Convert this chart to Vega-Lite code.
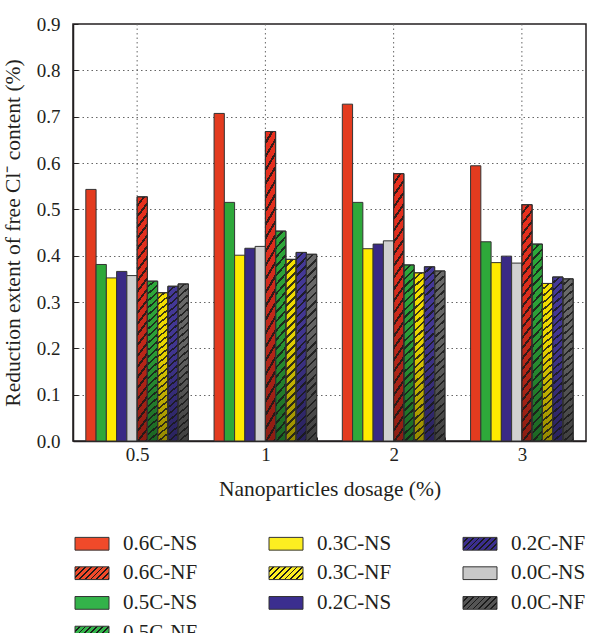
{
  "$schema": "https://vega.github.io/schema/vega-lite/v6.json",
  "autosize": "none",
  "width": 513,
  "height": 417,
  "padding": {"left": 73, "top": 24, "right": 4, "bottom": 192},
  "data": {
    "values": [
      {"dosage": "0.5", "series": "0.6C-NS", "value": 0.543},
      {"dosage": "0.5", "series": "0.5C-NS", "value": 0.381},
      {"dosage": "0.5", "series": "0.3C-NS", "value": 0.352},
      {"dosage": "0.5", "series": "0.2C-NS", "value": 0.366},
      {"dosage": "0.5", "series": "0.0C-NS", "value": 0.357},
      {"dosage": "0.5", "series": "0.6C-NF", "value": 0.527},
      {"dosage": "0.5", "series": "0.5C-NF", "value": 0.345},
      {"dosage": "0.5", "series": "0.3C-NF", "value": 0.320},
      {"dosage": "0.5", "series": "0.2C-NF", "value": 0.334},
      {"dosage": "0.5", "series": "0.0C-NF", "value": 0.339},
      {"dosage": "1", "series": "0.6C-NS", "value": 0.707},
      {"dosage": "1", "series": "0.5C-NS", "value": 0.515},
      {"dosage": "1", "series": "0.3C-NS", "value": 0.401},
      {"dosage": "1", "series": "0.2C-NS", "value": 0.416},
      {"dosage": "1", "series": "0.0C-NS", "value": 0.420},
      {"dosage": "1", "series": "0.6C-NF", "value": 0.668},
      {"dosage": "1", "series": "0.5C-NF", "value": 0.453},
      {"dosage": "1", "series": "0.3C-NF", "value": 0.392},
      {"dosage": "1", "series": "0.2C-NF", "value": 0.407},
      {"dosage": "1", "series": "0.0C-NF", "value": 0.403},
      {"dosage": "2", "series": "0.6C-NS", "value": 0.727},
      {"dosage": "2", "series": "0.5C-NS", "value": 0.515},
      {"dosage": "2", "series": "0.3C-NS", "value": 0.415},
      {"dosage": "2", "series": "0.2C-NS", "value": 0.425},
      {"dosage": "2", "series": "0.0C-NS", "value": 0.432},
      {"dosage": "2", "series": "0.6C-NF", "value": 0.577},
      {"dosage": "2", "series": "0.5C-NF", "value": 0.380},
      {"dosage": "2", "series": "0.3C-NF", "value": 0.363},
      {"dosage": "2", "series": "0.2C-NF", "value": 0.376},
      {"dosage": "2", "series": "0.0C-NF", "value": 0.367},
      {"dosage": "3", "series": "0.6C-NS", "value": 0.594},
      {"dosage": "3", "series": "0.5C-NS", "value": 0.430},
      {"dosage": "3", "series": "0.3C-NS", "value": 0.385},
      {"dosage": "3", "series": "0.2C-NS", "value": 0.399},
      {"dosage": "3", "series": "0.0C-NS", "value": 0.384},
      {"dosage": "3", "series": "0.6C-NF", "value": 0.510},
      {"dosage": "3", "series": "0.5C-NF", "value": 0.425},
      {"dosage": "3", "series": "0.3C-NF", "value": 0.340},
      {"dosage": "3", "series": "0.2C-NF", "value": 0.354},
      {"dosage": "3", "series": "0.0C-NF", "value": 0.350}
    ]
  },
  "layer": [
    {
      "data": {"values": [{"dosage": "0.5"}, {"dosage": "1"}, {"dosage": "2"}, {"dosage": "3"}]},
      "mark": {"type": "rule", "color": "#666666", "strokeWidth": 1, "strokeDash": [1.5, 3]},
      "encoding": {
        "x": {
          "field": "dosage", "type": "nominal",
          "scale": {"domain": ["0.5", "1", "2", "3"], "paddingInner": 0.2, "paddingOuter": 0.1},
          "axis": {"title": "Nanoparticles dosage (%)", "labelAngle": 0, "tickBand": "extent", "tickSize": -4, "labelPadding": 8, "titlePadding": 14, "grid": false}
        }
      }
    },
    {
      "mark": {"type": "bar", "stroke": "#333333", "strokeWidth": 1},
      "encoding": {
        "x": {
          "field": "dosage", "type": "nominal",
          "scale": {"domain": ["0.5", "1", "2", "3"], "paddingInner": 0.2, "paddingOuter": 0.1},
          "axis": {"title": "Nanoparticles dosage (%)", "labelAngle": 0, "tickBand": "extent", "tickSize": -4, "labelPadding": 8, "titlePadding": 14, "grid": false}
        },
        "xOffset": {
          "field": "series", "type": "nominal",
          "scale": {"domain": ["0.6C-NS", "0.5C-NS", "0.3C-NS", "0.2C-NS", "0.0C-NS", "0.6C-NF", "0.5C-NF", "0.3C-NF", "0.2C-NF", "0.0C-NF"]}
        },
        "y": {
          "field": "value", "type": "quantitative",
          "scale": {"domain": [0, 0.9], "nice": false},
          "axis": {
            "title": "Reduction extent of free Cl⁻ content (%)",
            "values": [0, 0.05, 0.1, 0.15, 0.2, 0.25, 0.3, 0.35, 0.4, 0.45, 0.5, 0.55, 0.6, 0.65, 0.7, 0.75, 0.8, 0.85, 0.9],
            "labelExpr": "abs(datum.value*10 - round(datum.value*10)) < 0.01 ? format(datum.value, '.1f') : ''",
            "labelOverlap": false,
            "tickSize": -5,
            "labelPadding": 18,
            "titlePadding": 12,
            "grid": true,
            "gridOpacity": {"condition": {"test": "abs(datum.value*10 - round(datum.value*10)) > 0.01 || datum.value < 0.01 || datum.value > 0.89", "value": 0}, "value": 1}
          }
        },
        "color": {
          "field": "series", "type": "nominal",
          "scale": {
            "domain": ["0.0C-NF", "0.2C-NF", "0.3C-NF", "0.5C-NF", "0.6C-NF", "0.0C-NS", "0.2C-NS", "0.3C-NS", "0.5C-NS", "0.6C-NS"],
            "range": ["#6a6a6a", "#45399a", "#f5e000", "#2ea83a", "#e8301e", "#d0d0d0", "#3a2a85", "#ffea00", "#2ea83a", "#e33b1f"]
          },
          "legend": null
        }
      }
    },
    {
      "transform": [{"filter": "indexof(datum.series,'NF') >= 0"}],
      "mark": {
        "type": "bar",
        "strokeWidth": 0,
        "fill": {"gradient": "linear", "x1": 0, "y1": 0, "x2": 0, "y2": 1, "stops": [{"offset": 0, "color": "rgba(0,0,0,0)"}, {"offset": 0.4, "color": "rgba(0,0,0,0.06)"}, {"offset": 1, "color": "rgba(0,0,0,0.4)"}]}
      },
      "encoding": {
        "x": {
          "field": "dosage", "type": "nominal",
          "scale": {"domain": ["0.5", "1", "2", "3"], "paddingInner": 0.2, "paddingOuter": 0.1},
          "axis": {"title": "Nanoparticles dosage (%)", "labelAngle": 0, "tickBand": "extent", "tickSize": -4, "labelPadding": 8, "titlePadding": 14, "grid": false}
        },
        "xOffset": {"field": "series", "type": "nominal"},
        "y": {"field": "value", "type": "quantitative"}
      }
    },
    {
      "transform": [{"filter": "indexof(datum.series,'NF') >= 0"}],
      "mark": {
        "type": "bar",
        "stroke": "#333333",
        "strokeWidth": 1,
        "fill": {"gradient": "linear", "x1": 0, "y1": 0, "x2": 0.0585, "y2": 1.0523, "stops": [
          {"offset": 0, "color": "rgba(0,0,0,0)"}, {"offset": 0.02917, "color": "rgba(0,0,0,0)"}, {"offset": 0.02917, "color": "rgba(25,25,25,0.85)"}, {"offset": 0.04167, "color": "rgba(25,25,25,0.85)"},
          {"offset": 0.04167, "color": "rgba(0,0,0,0)"}, {"offset": 0.07083, "color": "rgba(0,0,0,0)"}, {"offset": 0.07083, "color": "rgba(25,25,25,0.85)"}, {"offset": 0.08333, "color": "rgba(25,25,25,0.85)"},
          {"offset": 0.08333, "color": "rgba(0,0,0,0)"}, {"offset": 0.1125, "color": "rgba(0,0,0,0)"}, {"offset": 0.1125, "color": "rgba(25,25,25,0.85)"}, {"offset": 0.125, "color": "rgba(25,25,25,0.85)"},
          {"offset": 0.125, "color": "rgba(0,0,0,0)"}, {"offset": 0.15417, "color": "rgba(0,0,0,0)"}, {"offset": 0.15417, "color": "rgba(25,25,25,0.85)"}, {"offset": 0.16667, "color": "rgba(25,25,25,0.85)"},
          {"offset": 0.16667, "color": "rgba(0,0,0,0)"}, {"offset": 0.19583, "color": "rgba(0,0,0,0)"}, {"offset": 0.19583, "color": "rgba(25,25,25,0.85)"}, {"offset": 0.20833, "color": "rgba(25,25,25,0.85)"},
          {"offset": 0.20833, "color": "rgba(0,0,0,0)"}, {"offset": 0.2375, "color": "rgba(0,0,0,0)"}, {"offset": 0.2375, "color": "rgba(25,25,25,0.85)"}, {"offset": 0.25, "color": "rgba(25,25,25,0.85)"},
          {"offset": 0.25, "color": "rgba(0,0,0,0)"}, {"offset": 0.27917, "color": "rgba(0,0,0,0)"}, {"offset": 0.27917, "color": "rgba(25,25,25,0.85)"}, {"offset": 0.29167, "color": "rgba(25,25,25,0.85)"},
          {"offset": 0.29167, "color": "rgba(0,0,0,0)"}, {"offset": 0.32083, "color": "rgba(0,0,0,0)"}, {"offset": 0.32083, "color": "rgba(25,25,25,0.85)"}, {"offset": 0.33333, "color": "rgba(25,25,25,0.85)"},
          {"offset": 0.33333, "color": "rgba(0,0,0,0)"}, {"offset": 0.3625, "color": "rgba(0,0,0,0)"}, {"offset": 0.3625, "color": "rgba(25,25,25,0.85)"}, {"offset": 0.375, "color": "rgba(25,25,25,0.85)"},
          {"offset": 0.375, "color": "rgba(0,0,0,0)"}, {"offset": 0.40417, "color": "rgba(0,0,0,0)"}, {"offset": 0.40417, "color": "rgba(25,25,25,0.85)"}, {"offset": 0.41667, "color": "rgba(25,25,25,0.85)"},
          {"offset": 0.41667, "color": "rgba(0,0,0,0)"}, {"offset": 0.44583, "color": "rgba(0,0,0,0)"}, {"offset": 0.44583, "color": "rgba(25,25,25,0.85)"}, {"offset": 0.45833, "color": "rgba(25,25,25,0.85)"},
          {"offset": 0.45833, "color": "rgba(0,0,0,0)"}, {"offset": 0.4875, "color": "rgba(0,0,0,0)"}, {"offset": 0.4875, "color": "rgba(25,25,25,0.85)"}, {"offset": 0.5, "color": "rgba(25,25,25,0.85)"},
          {"offset": 0.5, "color": "rgba(0,0,0,0)"}, {"offset": 0.52917, "color": "rgba(0,0,0,0)"}, {"offset": 0.52917, "color": "rgba(25,25,25,0.85)"}, {"offset": 0.54167, "color": "rgba(25,25,25,0.85)"},
          {"offset": 0.54167, "color": "rgba(0,0,0,0)"}, {"offset": 0.57083, "color": "rgba(0,0,0,0)"}, {"offset": 0.57083, "color": "rgba(25,25,25,0.85)"}, {"offset": 0.58333, "color": "rgba(25,25,25,0.85)"},
          {"offset": 0.58333, "color": "rgba(0,0,0,0)"}, {"offset": 0.6125, "color": "rgba(0,0,0,0)"}, {"offset": 0.6125, "color": "rgba(25,25,25,0.85)"}, {"offset": 0.625, "color": "rgba(25,25,25,0.85)"},
          {"offset": 0.625, "color": "rgba(0,0,0,0)"}, {"offset": 0.65417, "color": "rgba(0,0,0,0)"}, {"offset": 0.65417, "color": "rgba(25,25,25,0.85)"}, {"offset": 0.66667, "color": "rgba(25,25,25,0.85)"},
          {"offset": 0.66667, "color": "rgba(0,0,0,0)"}, {"offset": 0.69583, "color": "rgba(0,0,0,0)"}, {"offset": 0.69583, "color": "rgba(25,25,25,0.85)"}, {"offset": 0.70833, "color": "rgba(25,25,25,0.85)"},
          {"offset": 0.70833, "color": "rgba(0,0,0,0)"}, {"offset": 0.7375, "color": "rgba(0,0,0,0)"}, {"offset": 0.7375, "color": "rgba(25,25,25,0.85)"}, {"offset": 0.75, "color": "rgba(25,25,25,0.85)"},
          {"offset": 0.75, "color": "rgba(0,0,0,0)"}, {"offset": 0.77917, "color": "rgba(0,0,0,0)"}, {"offset": 0.77917, "color": "rgba(25,25,25,0.85)"}, {"offset": 0.79167, "color": "rgba(25,25,25,0.85)"},
          {"offset": 0.79167, "color": "rgba(0,0,0,0)"}, {"offset": 0.82083, "color": "rgba(0,0,0,0)"}, {"offset": 0.82083, "color": "rgba(25,25,25,0.85)"}, {"offset": 0.83333, "color": "rgba(25,25,25,0.85)"},
          {"offset": 0.83333, "color": "rgba(0,0,0,0)"}, {"offset": 0.8625, "color": "rgba(0,0,0,0)"}, {"offset": 0.8625, "color": "rgba(25,25,25,0.85)"}, {"offset": 0.875, "color": "rgba(25,25,25,0.85)"},
          {"offset": 0.875, "color": "rgba(0,0,0,0)"}, {"offset": 0.90417, "color": "rgba(0,0,0,0)"}, {"offset": 0.90417, "color": "rgba(25,25,25,0.85)"}, {"offset": 0.91667, "color": "rgba(25,25,25,0.85)"},
          {"offset": 0.91667, "color": "rgba(0,0,0,0)"}, {"offset": 0.94583, "color": "rgba(0,0,0,0)"}, {"offset": 0.94583, "color": "rgba(25,25,25,0.85)"}, {"offset": 0.95833, "color": "rgba(25,25,25,0.85)"},
          {"offset": 0.95833, "color": "rgba(0,0,0,0)"}, {"offset": 0.9875, "color": "rgba(0,0,0,0)"}, {"offset": 0.9875, "color": "rgba(25,25,25,0.85)"}, {"offset": 1, "color": "rgba(25,25,25,0.85)"}
        ]}
      },
      "encoding": {
        "x": {
          "field": "dosage", "type": "nominal",
          "scale": {"domain": ["0.5", "1", "2", "3"], "paddingInner": 0.2, "paddingOuter": 0.1},
          "axis": {"title": "Nanoparticles dosage (%)", "labelAngle": 0, "tickBand": "extent", "tickSize": -4, "labelPadding": 8, "titlePadding": 14, "grid": false}
        },
        "xOffset": {"field": "series", "type": "nominal"},
        "y": {"field": "value", "type": "quantitative"}
      }
    },
    {
      "mark": {"type": "bar", "opacity": 0, "stroke": "#333333", "strokeWidth": 1},
      "encoding": {
        "x": {
          "field": "dosage", "type": "nominal",
          "scale": {"domain": ["0.5", "1", "2", "3"], "paddingInner": 0.2, "paddingOuter": 0.1},
          "axis": {"title": "Nanoparticles dosage (%)", "labelAngle": 0, "tickBand": "extent", "tickSize": -4, "labelPadding": 8, "titlePadding": 14, "grid": false}
        },
        "xOffset": {"field": "series", "type": "nominal"},
        "y": {"field": "value", "type": "quantitative"},
        "fill": {
          "field": "series", "type": "nominal",
          "scale": {
            "domain": ["0.6C-NS", "0.5C-NS", "0.3C-NS", "0.2C-NS", "0.0C-NS", "0.6C-NF", "0.5C-NF", "0.3C-NF", "0.2C-NF", "0.0C-NF"],
            "range": [
              "#f04a2a", "#33b34a", "#fcee21", "#3b2e8f", "#c8c8c8",
              {"expr": "{gradient:'linear',x1:0,y1:0,x2:1.2,y2:0.45,stops:[{offset:0,color:'#f04a2a'},{offset:0.0875,color:'#f04a2a'},{offset:0.0875,color:'#1a1a1a'},{offset:0.125,color:'#1a1a1a'},{offset:0.125,color:'#f04a2a'},{offset:0.2125,color:'#f04a2a'},{offset:0.2125,color:'#1a1a1a'},{offset:0.25,color:'#1a1a1a'},{offset:0.25,color:'#f04a2a'},{offset:0.3375,color:'#f04a2a'},{offset:0.3375,color:'#1a1a1a'},{offset:0.375,color:'#1a1a1a'},{offset:0.375,color:'#f04a2a'},{offset:0.4625,color:'#f04a2a'},{offset:0.4625,color:'#1a1a1a'},{offset:0.5,color:'#1a1a1a'},{offset:0.5,color:'#f04a2a'},{offset:0.5875,color:'#f04a2a'},{offset:0.5875,color:'#1a1a1a'},{offset:0.625,color:'#1a1a1a'},{offset:0.625,color:'#f04a2a'},{offset:0.7125,color:'#f04a2a'},{offset:0.7125,color:'#1a1a1a'},{offset:0.75,color:'#1a1a1a'},{offset:0.75,color:'#f04a2a'},{offset:0.8375,color:'#f04a2a'},{offset:0.8375,color:'#1a1a1a'},{offset:0.875,color:'#1a1a1a'},{offset:0.875,color:'#f04a2a'},{offset:0.9625,color:'#f04a2a'},{offset:0.9625,color:'#1a1a1a'},{offset:1,color:'#1a1a1a'}]}"},
              {"expr": "{gradient:'linear',x1:0,y1:0,x2:1.2,y2:0.45,stops:[{offset:0,color:'#33b34a'},{offset:0.0875,color:'#33b34a'},{offset:0.0875,color:'#1a1a1a'},{offset:0.125,color:'#1a1a1a'},{offset:0.125,color:'#33b34a'},{offset:0.2125,color:'#33b34a'},{offset:0.2125,color:'#1a1a1a'},{offset:0.25,color:'#1a1a1a'},{offset:0.25,color:'#33b34a'},{offset:0.3375,color:'#33b34a'},{offset:0.3375,color:'#1a1a1a'},{offset:0.375,color:'#1a1a1a'},{offset:0.375,color:'#33b34a'},{offset:0.4625,color:'#33b34a'},{offset:0.4625,color:'#1a1a1a'},{offset:0.5,color:'#1a1a1a'},{offset:0.5,color:'#33b34a'},{offset:0.5875,color:'#33b34a'},{offset:0.5875,color:'#1a1a1a'},{offset:0.625,color:'#1a1a1a'},{offset:0.625,color:'#33b34a'},{offset:0.7125,color:'#33b34a'},{offset:0.7125,color:'#1a1a1a'},{offset:0.75,color:'#1a1a1a'},{offset:0.75,color:'#33b34a'},{offset:0.8375,color:'#33b34a'},{offset:0.8375,color:'#1a1a1a'},{offset:0.875,color:'#1a1a1a'},{offset:0.875,color:'#33b34a'},{offset:0.9625,color:'#33b34a'},{offset:0.9625,color:'#1a1a1a'},{offset:1,color:'#1a1a1a'}]}"},
              {"expr": "{gradient:'linear',x1:0,y1:0,x2:1.2,y2:0.45,stops:[{offset:0,color:'#fcee21'},{offset:0.0875,color:'#fcee21'},{offset:0.0875,color:'#1a1a1a'},{offset:0.125,color:'#1a1a1a'},{offset:0.125,color:'#fcee21'},{offset:0.2125,color:'#fcee21'},{offset:0.2125,color:'#1a1a1a'},{offset:0.25,color:'#1a1a1a'},{offset:0.25,color:'#fcee21'},{offset:0.3375,color:'#fcee21'},{offset:0.3375,color:'#1a1a1a'},{offset:0.375,color:'#1a1a1a'},{offset:0.375,color:'#fcee21'},{offset:0.4625,color:'#fcee21'},{offset:0.4625,color:'#1a1a1a'},{offset:0.5,color:'#1a1a1a'},{offset:0.5,color:'#fcee21'},{offset:0.5875,color:'#fcee21'},{offset:0.5875,color:'#1a1a1a'},{offset:0.625,color:'#1a1a1a'},{offset:0.625,color:'#fcee21'},{offset:0.7125,color:'#fcee21'},{offset:0.7125,color:'#1a1a1a'},{offset:0.75,color:'#1a1a1a'},{offset:0.75,color:'#fcee21'},{offset:0.8375,color:'#fcee21'},{offset:0.8375,color:'#1a1a1a'},{offset:0.875,color:'#1a1a1a'},{offset:0.875,color:'#fcee21'},{offset:0.9625,color:'#fcee21'},{offset:0.9625,color:'#1a1a1a'},{offset:1,color:'#1a1a1a'}]}"},
              {"expr": "{gradient:'linear',x1:0,y1:0,x2:1.2,y2:0.45,stops:[{offset:0,color:'#3b2e8f'},{offset:0.0875,color:'#3b2e8f'},{offset:0.0875,color:'#1a1a1a'},{offset:0.125,color:'#1a1a1a'},{offset:0.125,color:'#3b2e8f'},{offset:0.2125,color:'#3b2e8f'},{offset:0.2125,color:'#1a1a1a'},{offset:0.25,color:'#1a1a1a'},{offset:0.25,color:'#3b2e8f'},{offset:0.3375,color:'#3b2e8f'},{offset:0.3375,color:'#1a1a1a'},{offset:0.375,color:'#1a1a1a'},{offset:0.375,color:'#3b2e8f'},{offset:0.4625,color:'#3b2e8f'},{offset:0.4625,color:'#1a1a1a'},{offset:0.5,color:'#1a1a1a'},{offset:0.5,color:'#3b2e8f'},{offset:0.5875,color:'#3b2e8f'},{offset:0.5875,color:'#1a1a1a'},{offset:0.625,color:'#1a1a1a'},{offset:0.625,color:'#3b2e8f'},{offset:0.7125,color:'#3b2e8f'},{offset:0.7125,color:'#1a1a1a'},{offset:0.75,color:'#1a1a1a'},{offset:0.75,color:'#3b2e8f'},{offset:0.8375,color:'#3b2e8f'},{offset:0.8375,color:'#1a1a1a'},{offset:0.875,color:'#1a1a1a'},{offset:0.875,color:'#3b2e8f'},{offset:0.9625,color:'#3b2e8f'},{offset:0.9625,color:'#1a1a1a'},{offset:1,color:'#1a1a1a'}]}"},
              {"expr": "{gradient:'linear',x1:0,y1:0,x2:1.2,y2:0.45,stops:[{offset:0,color:'#555555'},{offset:0.0875,color:'#555555'},{offset:0.0875,color:'#1a1a1a'},{offset:0.125,color:'#1a1a1a'},{offset:0.125,color:'#555555'},{offset:0.2125,color:'#555555'},{offset:0.2125,color:'#1a1a1a'},{offset:0.25,color:'#1a1a1a'},{offset:0.25,color:'#555555'},{offset:0.3375,color:'#555555'},{offset:0.3375,color:'#1a1a1a'},{offset:0.375,color:'#1a1a1a'},{offset:0.375,color:'#555555'},{offset:0.4625,color:'#555555'},{offset:0.4625,color:'#1a1a1a'},{offset:0.5,color:'#1a1a1a'},{offset:0.5,color:'#555555'},{offset:0.5875,color:'#555555'},{offset:0.5875,color:'#1a1a1a'},{offset:0.625,color:'#1a1a1a'},{offset:0.625,color:'#555555'},{offset:0.7125,color:'#555555'},{offset:0.7125,color:'#1a1a1a'},{offset:0.75,color:'#1a1a1a'},{offset:0.75,color:'#555555'},{offset:0.8375,color:'#555555'},{offset:0.8375,color:'#1a1a1a'},{offset:0.875,color:'#1a1a1a'},{offset:0.875,color:'#555555'},{offset:0.9625,color:'#555555'},{offset:0.9625,color:'#1a1a1a'},{offset:1,color:'#1a1a1a'}]}"}
            ]
          },
          "legend": {
            "title": null,
            "orient": "bottom",
            "offset": 33,
            "columns": 3,
            "values": ["0.6C-NS", "0.3C-NS", "0.2C-NF", "0.6C-NF", "0.3C-NF", "0.0C-NS", "0.5C-NS", "0.2C-NS", "0.0C-NF", "0.5C-NF"],
            "symbolType": "M-1,-0.75H3V0.75H-1Z",
            "symbolSize": 289,
            "symbolOpacity": 1,
            "symbolStrokeColor": "#333333",
            "symbolStrokeWidth": 1,
            "labelOffset": 29,
            "columnPadding": 69,
            "rowPadding": 7.7,
            "labelFontSize": 21,
            "labelFont": "Liberation Serif",
            "labelColor": "#231f20"
          }
        }
      }
    }
  ],
  "config": {
    "font": "Liberation Serif",
    "view": {"stroke": "#231f20", "strokeWidth": 1.5},
    "axis": {
      "labelFont": "Liberation Serif",
      "titleFont": "Liberation Serif",
      "labelFontSize": 19,
      "titleFontSize": 21.5,
      "titleFontWeight": "normal",
      "labelColor": "#231f20",
      "titleColor": "#231f20",
      "domainColor": "#231f20",
      "domainWidth": 1.5,
      "tickColor": "#231f20",
      "tickWidth": 1,
      "gridColor": "#666666",
      "gridDash": [1.5, 3],
      "gridWidth": 1
    }
  }
}
